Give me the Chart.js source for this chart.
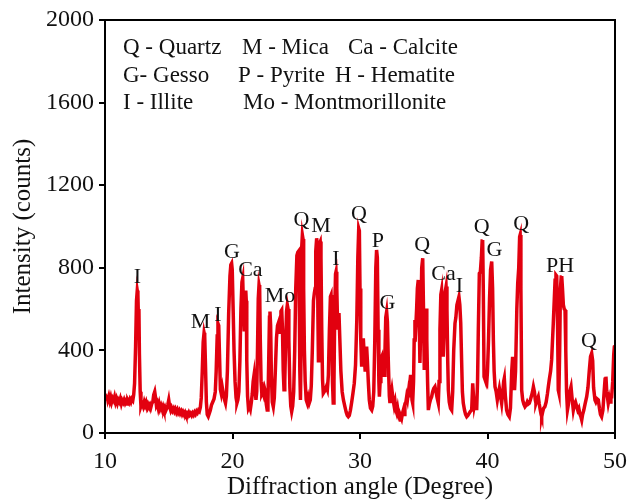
<!DOCTYPE html>
<html>
<head>
<meta charset="utf-8">
<script src="https://cdn.jsdelivr.net/npm/chart.js@4.4.9/dist/chart.umd.min.js"></script>
<style>
  html, body { margin: 0; padding: 0; background: #fff; }
  #wrap { width: 628px; height: 502px; }
</style>
</head>
<body>
<div id="wrap"><canvas id="xrd" width="628" height="502"></canvas></div>
<script>
// diffraction angle (degree) and intensity (counts)
const angles = [
  10.0, 10.08, 10.15, 10.22, 10.3, 10.38, 10.45, 10.52, 10.6, 10.68, 10.75, 10.83, 10.9, 10.98,
  11.05, 11.13, 11.2, 11.28, 11.35, 11.43, 11.5, 11.58, 11.65, 11.73, 11.8, 11.88, 11.95,
  12.03, 12.1, 12.18, 12.25, 12.32, 12.4, 12.47, 12.53, 12.58, 12.62, 12.66, 12.7, 12.76, 12.82,
  12.9, 13.0, 13.08, 13.15, 13.22, 13.3, 13.38, 13.45, 13.52, 13.6, 13.68, 13.75, 13.82, 13.9,
  13.97, 14.03, 14.1, 14.18, 14.25, 14.32, 14.4, 14.48, 14.55, 14.62, 14.7, 14.78, 14.85, 14.92,
  15.0, 15.08, 15.15, 15.22, 15.3, 15.38, 15.45, 15.52, 15.6, 15.68, 15.75, 15.83, 15.9, 15.98,
  16.05, 16.12, 16.2, 16.28, 16.35, 16.42, 16.5, 16.58, 16.65, 16.72, 16.8, 16.88, 16.95,
  17.03, 17.1, 17.18, 17.25, 17.33, 17.4, 17.48, 17.55, 17.63, 17.7, 17.77, 17.82, 17.88, 17.95,
  18.02, 18.1, 18.18, 18.26, 18.35, 18.45, 18.55, 18.65, 18.72, 18.8, 18.86, 18.92, 18.98,
  19.05, 19.12, 19.2, 19.28, 19.38, 19.45, 19.52, 19.6, 19.7, 19.8, 19.87, 19.93, 19.98,
  20.05, 20.12, 20.2, 20.28, 20.35, 20.42, 20.5, 20.58, 20.66, 20.74, 20.8, 20.86, 20.92, 20.98,
  21.04, 21.08, 21.12, 21.18, 21.25, 21.32, 21.4, 21.48, 21.55, 21.62, 21.69, 21.76, 21.84, 21.9, 21.96,
  22.02, 22.08, 22.13, 22.18, 22.24, 22.3, 22.37, 22.44, 22.52, 22.58, 22.65, 22.72, 22.78, 22.84, 22.9, 22.94, 22.99,
  23.05, 23.12, 23.2, 23.28, 23.36, 23.45, 23.53, 23.6, 23.67, 23.73, 23.8, 23.86, 23.92, 23.98,
  24.04, 24.1, 24.16, 24.24, 24.3, 24.36, 24.42, 24.5, 24.57, 24.64, 24.72, 24.8, 24.88, 24.96,
  25.05, 25.12, 25.18, 25.23, 25.28, 25.33, 25.38, 25.43, 25.48, 25.53, 25.58, 25.64, 25.7, 25.78, 25.86, 25.94,
  26.02, 26.1, 26.18, 26.26, 26.35, 26.42, 26.48, 26.53, 26.6, 26.66, 26.7, 26.74, 26.78, 26.83, 26.88, 26.94,
  27.0, 27.06, 27.12, 27.2, 27.28, 27.36, 27.44, 27.52, 27.6, 27.68, 27.73, 27.78, 27.84, 27.9, 27.96,
  28.02, 28.08, 28.12, 28.18, 28.25, 28.3, 28.35, 28.42, 28.5, 28.6, 28.7, 28.82, 28.92,
  29.0, 29.08, 29.16, 29.25, 29.35, 29.45, 29.55, 29.65, 29.75, 29.83, 29.9, 29.95,
  30.0, 30.06, 30.13, 30.2, 30.26, 30.33, 30.4, 30.46, 30.52, 30.58, 30.65, 30.73, 30.82, 30.92,
  31.0, 31.08, 31.16, 31.24, 31.3, 31.36, 31.42, 31.48, 31.52, 31.58, 31.64, 31.7, 31.76, 31.83, 31.9, 31.96,
  32.02, 32.09, 32.15, 32.22, 32.3, 32.35, 32.42, 32.5, 32.6, 32.68, 32.75, 32.82, 32.88, 32.95,
  33.02, 33.08, 33.14, 33.2, 33.26, 33.33, 33.4, 33.46, 33.52, 33.6, 33.66, 33.72, 33.8, 33.86, 33.92, 33.97,
  34.03, 34.08, 34.13, 34.2, 34.25, 34.31, 34.38, 34.44, 34.5, 34.57, 34.63, 34.7, 34.76, 34.84, 34.92, 34.98,
  35.04, 35.1, 35.18, 35.24, 35.3, 35.36, 35.44, 35.52, 35.62, 35.7, 35.78, 35.88, 35.96,
  36.05, 36.14, 36.2, 36.27, 36.34, 36.4, 36.46, 36.53, 36.6, 36.67, 36.75, 36.82, 36.88, 36.93,
  37.0, 37.1, 37.19, 37.27, 37.35, 37.45, 37.52, 37.6, 37.68, 37.76, 37.83, 37.9, 37.97,
  38.03, 38.1, 38.2, 38.28, 38.37, 38.46, 38.56, 38.66, 38.76, 38.84, 38.9, 38.96,
  39.02, 39.08, 39.15, 39.22, 39.28, 39.36, 39.44, 39.52, 39.58, 39.62, 39.67, 39.73, 39.8, 39.87, 39.94,
  40.0, 40.08, 40.16, 40.24, 40.33, 40.4, 40.46, 40.52, 40.59, 40.68, 40.77, 40.85, 40.93,
  41.02, 41.11, 41.2, 41.27, 41.32, 41.4, 41.5, 41.6, 41.71, 41.8, 41.9, 41.97,
  42.05, 42.12, 42.2, 42.3, 42.37, 42.45, 42.52, 42.56, 42.62, 42.68, 42.76, 42.85, 42.94,
  43.03, 43.12, 43.2, 43.28, 43.36, 43.45, 43.53, 43.6, 43.68, 43.75, 43.8, 43.88, 43.98,
  44.06, 44.14, 44.2, 44.25, 44.32, 44.4, 44.5, 44.6, 44.7, 44.77, 44.85, 44.95,
  45.03, 45.1, 45.16, 45.24, 45.3, 45.37, 45.43, 45.5, 45.55, 45.6, 45.66, 45.72, 45.78, 45.82, 45.88, 45.95,
  46.02, 46.08, 46.14, 46.2, 46.27, 46.35, 46.45, 46.55, 46.63, 46.73, 46.82, 46.9,
  47.0, 47.08, 47.16, 47.25, 47.32, 47.39, 47.46, 47.55, 47.65, 47.78, 47.88, 47.98,
  48.08, 48.17, 48.25, 48.32, 48.43, 48.5, 48.6, 48.69, 48.78, 48.86, 48.95,
  49.05, 49.15, 49.22, 49.29, 49.35, 49.47, 49.55, 49.62, 49.68, 49.74, 49.82, 49.9, 49.95, 50.0
];
const counts = [
  190, 165, 185, 160, 178, 155, 172, 150, 168, 158, 175, 150, 165, 145,
  160, 150, 165, 142, 158, 148, 160, 145, 155, 140, 158, 148, 162,
  150, 165, 158, 185, 240, 420, 640, 690, 670, 560, 600, 380, 200, 130,
  145, 128, 150, 135, 148, 125, 140, 130, 138, 125, 145, 150, 185, 200,
  170, 135, 145, 120, 140, 118, 132, 115, 128, 112, 125, 110, 120, 135,
  160, 125, 110, 122, 108, 118, 105, 115, 100, 112, 98, 108, 95, 105,
  92, 102, 90, 100, 88, 95, 85, 98, 88, 95, 85, 96, 88,
  100, 92, 105, 98, 110, 105, 125, 170, 300, 440, 485, 470, 330, 150,
  90, 80, 95, 110, 135, 150, 165, 200, 300, 470, 530, 520, 380,
  210, 190, 220, 190, 160, 145, 180, 300, 580, 760, 815, 822, 790,
  600, 400, 250, 170, 145, 160, 200, 350, 600, 730, 749, 620, 500, 600,
  690, 640, 350, 180, 120, 130, 115, 150, 190, 250, 281, 220, 160, 200, 400,
  650, 717, 700, 450, 250, 190, 200, 185, 215, 200, 140, 111, 150, 350, 560, 588, 520,
  280, 150, 127, 170, 300, 460, 520, 533, 480, 540, 590, 596, 500, 300,
  210, 250, 420, 590, 620, 600, 450, 220, 130, 103, 130, 200, 400, 700,
  860, 875, 880, 700, 300, 160, 400, 900, 959, 940, 700, 400, 250, 160, 145, 170,
  145, 160, 230, 400, 640, 678, 700, 880, 943, 900, 560, 350, 700, 920, 927, 850,
  500, 260, 192, 200, 210, 224, 210, 280, 500, 660, 668, 560, 250, 145, 250,
  600, 770, 781, 700, 500, 560, 581, 450, 300, 200, 160, 127, 100,
  85, 79, 85, 110, 150, 194, 240, 330, 550, 850, 991, 980,
  700, 450, 321, 400, 458, 380, 305, 350, 418, 350, 250, 160, 120, 111,
  130, 200, 450, 800, 886, 850, 500, 250, 176, 250, 360, 369, 300, 354, 280, 400,
  560, 588, 540, 350, 180, 145, 180, 210, 160, 130, 150, 110, 97, 120,
  90, 75, 63, 80, 70, 95, 111, 90, 140, 150, 176, 160, 200, 180, 250, 281,
  220, 160, 145, 250, 450, 547, 520, 600, 700, 741, 600, 339, 500, 800, 846, 600,
  305, 450, 603, 450, 250, 111, 140, 160, 176, 200, 215, 224, 200,
  170, 145, 250, 500, 670, 692, 600, 369, 500, 680, 709, 600, 350, 208,
  150, 120, 111, 200, 400, 531, 560, 620, 640, 660, 620, 533, 350,
  200, 145, 110, 90, 79, 85, 95, 105, 111, 241, 180, 130,
  150, 176, 111, 250, 500, 773, 780, 850, 930, 935, 700, 273, 260, 250, 241,
  300, 450, 650, 790, 830, 700, 450, 300, 224, 200, 160, 190, 216,
  180, 144, 200, 250, 265, 180, 111, 90, 79, 120, 300, 369,
  300, 208, 300, 600, 725, 800, 950, 959, 700, 208, 160, 140, 127,
  135, 150, 140, 144, 160, 180, 200, 224, 200, 160, 144, 160, 176,
  140, 110, 90, 79, 100, 120, 127, 150, 190, 224, 260, 300,
  354, 450, 531, 650, 740, 765, 760, 500, 208, 194, 400, 700, 755, 760, 700, 620,
  600, 596, 400, 200, 111, 140, 200, 224, 170, 111, 140, 150,
  127, 110, 120, 90, 80, 63, 90, 110, 140, 176, 220, 300,
  370, 386, 350, 220, 160, 150, 165, 160, 120, 90, 79,
  110, 200, 260, 273, 200, 144, 170, 150, 176, 176, 250, 380, 418, 420
];

// phase markers above the peaks
const peakTags = ["I", "M", "I", "G", "Ca", "Mo", "Q", "M", "I", "Q", "P", "G", "Q", "Ca", "I", "Q", "G", "Q", "PH", "Q"];
const tagAngles = [12.55, 17.5, 18.85, 19.95, 21.4, 23.73, 25.4, 26.95, 28.12, 29.92, 31.4, 32.15, 34.88, 36.55, 37.8, 39.55, 40.55, 42.65, 45.7, 47.95];
const tagCounts = [755, 535, 570, 874, 790, 663, 1030, 1000, 843, 1058, 928, 628, 910, 768, 712, 998, 884, 1010, 806, 443];

// key box text
const keyRow1 = ["Q - Quartz", "M - Mica", "Ca - Calcite"];
const keyRow2 = ["G- Gesso", "P - Pyrite", "H - Hematite"];
const keyRow3 = ["I - Illite", "Mo - Montmorillonite"];

const serif = "'Liberation Serif', 'Times New Roman', serif";
const lineRed = "#e2000f";

const annotate = {
  id: "annotate",
  afterDatasetsDraw(chart) {
    const { ctx, chartArea, scales } = chart;
    ctx.save();
    ctx.fillStyle = "#111";
    ctx.font = "22px " + serif;
    ctx.textAlign = "center";
    ctx.textBaseline = "middle";
    peakTags.forEach((tag, i) => {
      ctx.fillText(tag, scales.x.getPixelForValue(tagAngles[i]), scales.y.getPixelForValue(tagCounts[i]));
    });

    ctx.textAlign = "left";
    ctx.font = "23px " + serif;
    const left = chartArea.left;
    const top = chartArea.top;
    const colA = [left + 18, left + 137, left + 243];
    const colB = [left + 18, left + 133, left + 230];
    const colC = [left + 18, left + 138];
    keyRow1.forEach((t, i) => ctx.fillText(t, colA[i], top + 28));
    keyRow2.forEach((t, i) => ctx.fillText(t, colB[i], top + 56));
    keyRow3.forEach((t, i) => ctx.fillText(t, colC[i], top + 83));
    ctx.restore();
  },
  afterDraw(chart) {
    const { ctx, chartArea } = chart;
    ctx.save();
    ctx.strokeStyle = "#000";
    ctx.lineWidth = 2;
    ctx.strokeRect(chartArea.left, chartArea.top, chartArea.right - chartArea.left, chartArea.bottom - chartArea.top);
    ctx.restore();
  }
};

new Chart(document.getElementById("xrd").getContext("2d"), {
  type: "line",
  data: {
    datasets: [
      {
        data: angles.map((a, i) => ({ x: a, y: counts[i] })),
        borderColor: lineRed,
        borderWidth: 3.5,
        pointRadius: 0,
        tension: 0,
        fill: false,
      },
    ],
  },
  options: {
    responsive: false,
    animation: false,
    layout: { padding: { top: 20, right: 13, left: 0, bottom: 0 } },
    plugins: {
      legend: { display: false },
      tooltip: { enabled: false },
    },
    scales: {
      x: {
        type: "linear",
        min: 10,
        max: 50,
        afterFit: (scale) => {
          scale.height = 69;
          scale.paddingRight = 0;
        },
        ticks: {
          stepSize: 10,
          color: "#111",
          font: { family: serif, size: 24 },
          padding: 8,
          maxRotation: 0,
          callback: (v) => String(v),
        },
        grid: { drawOnChartArea: false, drawTicks: true, tickLength: 6, color: "#000", lineWidth: 2 },
        border: { display: true, color: "#000", width: 2 },
        title: {
          display: true,
          text: "Diffraction angle (Degree)",
          color: "#111",
          font: { family: serif, size: 25 },
          padding: { top: 0, bottom: 0 },
        },
      },
      y: {
        min: 0,
        max: 2000,
        afterFit: (scale) => { scale.width = 105; },
        ticks: {
          stepSize: 400,
          color: "#111",
          font: { family: serif, size: 24 },
          padding: 5,
          callback: (v) => String(v),
        },
        grid: { drawOnChartArea: false, drawTicks: true, tickLength: 6, color: "#000", lineWidth: 2 },
        border: { display: true, color: "#000", width: 2 },
        title: {
          display: true,
          text: "Intensity (counts)",
          color: "#111",
          font: { family: serif, size: 25 },
          padding: { top: 8, bottom: 0 },
        },
      },
    },
  },
  plugins: [annotate],
});
</script>
</body>
</html>
